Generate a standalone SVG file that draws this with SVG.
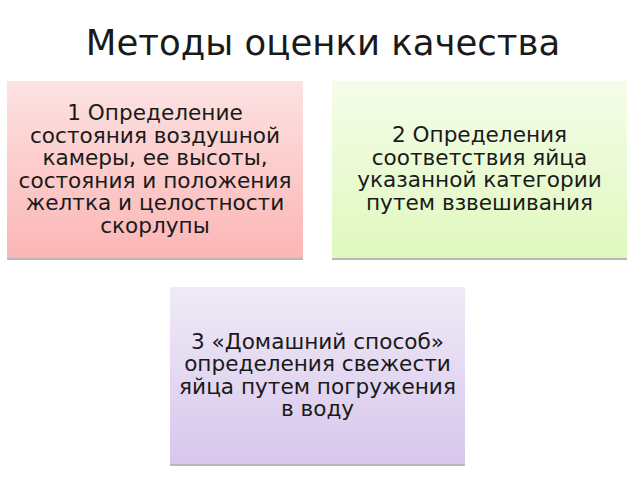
<svg xmlns="http://www.w3.org/2000/svg" width="640" height="480" viewBox="0 0 640 480">
<defs>
<linearGradient id="g1" x1="0" y1="0" x2="0" y2="1"><stop offset="0" stop-color="#fde2e2"/><stop offset="1" stop-color="#fbb6b5"/></linearGradient>
<linearGradient id="g2" x1="0" y1="0" x2="0" y2="1"><stop offset="0" stop-color="#f5fde9"/><stop offset="1" stop-color="#e0f8be"/></linearGradient>
<linearGradient id="g3" x1="0" y1="0" x2="0" y2="1"><stop offset="0" stop-color="#f0eaf7"/><stop offset="1" stop-color="#d7c7ec"/></linearGradient>
</defs>
<style>
text{font-family:"DejaVu Sans","Noto Sans",sans-serif;fill:#1a1a1a;text-anchor:middle}
.t{font-size:35.5px}
.b{font-size:21.6px}
.sh{fill:#b8b8b8}
</style>
<rect width="640" height="480" fill="#ffffff"/>
<text class="t" x="323" y="55">Методы оценки качества</text>
<g id="node1">
<rect class="sh" x="7" y="257" width="296" height="3"/>
<rect x="7" y="81" width="296" height="177" fill="url(#g1)"/>
<text class="b" x="155" y="120">1 Определение</text>
<text class="b" x="155" y="142.5">состояния воздушной</text>
<text class="b" x="155" y="165">камеры, ее высоты,</text>
<text class="b" x="155" y="187.5">состояния и положения</text>
<text class="b" x="155" y="210">желтка и целостности</text>
<text class="b" x="155" y="232.5">скорлупы</text>
</g>
<g id="node2">
<rect class="sh" x="332" y="257" width="295" height="3"/>
<rect x="332" y="81" width="295" height="177" fill="url(#g2)"/>
<text class="b" x="479.5" y="142">2 Определения</text>
<text class="b" x="479.5" y="164.5">соответствия яйца</text>
<text class="b" x="479.5" y="187">указанной категории</text>
<text class="b" x="479.5" y="209.5">путем взвешивания</text>
</g>
<g id="node3">
<rect class="sh" x="170" y="463" width="295" height="3"/>
<rect x="170" y="287" width="295" height="177" fill="url(#g3)"/>
<text class="b" x="317.5" y="348.5">3 «Домашний способ»</text>
<text class="b" x="317.5" y="371">определения свежести</text>
<text class="b" x="317.5" y="393.5">яйца путем погружения</text>
<text class="b" x="317.5" y="416">в воду</text>
</g>
<g id="connectors"/>
</svg>
